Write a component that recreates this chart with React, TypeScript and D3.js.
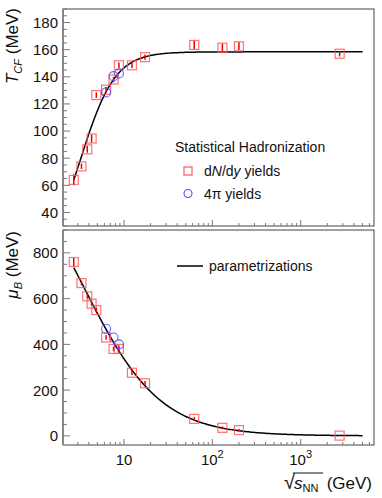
import * as d3 from 'd3';
import React from 'react';

// sqrt(s_NN) in GeV
const energies = [2.7, 3.3, 3.84, 4.3, 4.86, 6.27, 7.62, 8.77, 12.3, 17.3, 62.4, 130, 200, 2760];
const tcfValues = [64, 74, 86.5, 94.5, 126.5, 130.5, 138, 148.5, 148.5, 154.5, 163.5, 161.5, 162.5, 157];
const tcfErrors = [4, 2, 2.5, 3, 2, 2, 2, 2, 2, 2, 3, 3, 3, 2];
const muBValues = [760, 668, 610, 578, 550, 430, 380, 380, 276, 230, 74, 35, 25, 1];
const muBErrors = [20, 10, 10, 10, 10, 10, 10, 15, 10, 10, 8, 6, 5, 1];

const energies4pi = [6.27, 7.62, 8.77];
const tcf4pi = [128.5, 140.5, 142.5];
const muB4pi = [468, 430, 400];

const yTicksT = [40, 60, 80, 100, 120, 140, 160, 180];
const yTicksMu = [0, 200, 400, 600, 800];
const xTickLabels = [
  { v: 10, base: '10', exp: '' },
  { v: 100, base: '10', exp: '2' },
  { v: 1000, base: '10', exp: '3' },
];

// parametrization constants (T_lim, a, b) and (a, b)
const T_LIM = 158.4;
const T_A = 2.6;
const T_B = 0.45;
const MU_A = 1307.5;
const MU_B = 0.288;
const curveRange = [2.7, 5020];

const W = 382;
const H = 498;
const left = 63;
const right = 374;
const top1 = 9;
const bot1 = 226;
const top2 = 230;
const bot2 = 445;

const font = 'Liberation Sans, Arial, Helvetica, sans-serif';
const red = '#ff5a5a';
const blue = '#4a4aff';

const x = d3.scaleLog().domain([2.04, 6760]).range([left, right]);
const yT = d3.scaleLinear().domain([30, 190]).range([bot1, top1]);
const yMu = d3.scaleLinear().domain([-40, 900]).range([bot2, top2]);

const curveX = d3.range(0, 201).map((i) => curveRange[0] * Math.pow(curveRange[1] / curveRange[0], i / 200));
const tFunc = (s: number) => T_LIM / (1 + Math.exp(T_A - Math.log(s) / T_B));
const muFunc = (s: number) => MU_A / (1 + MU_B * s);

const Frame = ({ yScale, ticks, minorStep, y0, y1, showXLabels }: any) => {
  const [d0, d1] = yScale.domain();
  const minors = d3.range(Math.ceil(d0 / minorStep) * minorStep, d1 + 0.001, minorStep);
  const xMinor: number[] = [];
  for (let dec = 1; dec <= 1000; dec *= 10) {
    for (let k = 1; k < 10; k++) {
      const v = dec * k;
      if (v >= 2.04 && v <= 6760) xMinor.push(v);
    }
  }
  return (
    <g>
      <rect x={left} y={y0} width={right - left} height={y1 - y0} fill="none" stroke="#444" strokeWidth={1} />
      <line x1={left} x2={left} y1={y0} y2={y1} stroke="#888" strokeWidth={2} />
      {minors.map((v: number) => (
        <line key={'ym' + v} x1={left} x2={left + (ticks.includes(v) ? 7 : 4)} y1={yScale(v)} y2={yScale(v)} stroke="#777" />
      ))}
      {ticks.map((v: number) => (
        <text key={'yl' + v} x={left - 5} y={yScale(v)} dy="0.36em" textAnchor="end" fontSize={15} fontFamily={font} fill="#111">
          {v}
        </text>
      ))}
      {xMinor.map((v) => {
        const major = v === 10 || v === 100 || v === 1000;
        return <line key={'xm' + v} x1={x(v)} x2={x(v)} y1={y1} y2={y1 - (major ? 6 : 3)} stroke="#777" />;
      })}
      {showXLabels &&
        xTickLabels.map((t) => (
          <text key={'xl' + t.v} x={x(t.v)} y={y1 + 20} textAnchor="middle" fontSize={15} fontFamily={font} fill="#111">
            {t.base}
            {t.exp && (
              <tspan dy={-7} fontSize={11}>
                {t.exp}
              </tspan>
            )}
          </text>
        ))}
    </g>
  );
};

const Points = ({ yScale, vals, errs, v4pi }: any) => (
  <g>
    {energies.map((e, i) => (
      <g key={'e' + i}>
        <line x1={x(e)} x2={x(e)} y1={yScale(vals[i] - errs[i])} y2={yScale(vals[i] + errs[i])} stroke="#e00" strokeWidth={1.5} />
        <rect x={x(e) - 4.5} y={yScale(vals[i]) - 4.5} width={9} height={9} fill="none" stroke={red} strokeWidth={1.2} opacity={0.85} />
      </g>
    ))}
    {energies4pi.map((e, i) => (
      <circle key={'c' + i} cx={x(e)} cy={yScale(v4pi[i])} r={4.5} fill="none" stroke={blue} strokeWidth={1.1} opacity={0.85} />
    ))}
  </g>
);

export default function App() {
  const lineT = d3.line<number>().x((s) => x(s)).y((s) => yT(tFunc(s)));
  const lineMu = d3.line<number>().x((s) => x(s)).y((s) => yMu(muFunc(s)));
  return (
    <svg width={W} height={H} style={{ position: 'absolute', left: 0, top: 0, background: '#fff' }}>
      <Frame yScale={yT} ticks={yTicksT} minorStep={5} y0={top1} y1={bot1} showXLabels={false} />
      <Frame yScale={yMu} ticks={yTicksMu} minorStep={50} y0={top2} y1={bot2} showXLabels={true} />

      <path d={lineT(curveX) || ''} fill="none" stroke="#000" strokeWidth={1.5} />
      <path d={lineMu(curveX) || ''} fill="none" stroke="#000" strokeWidth={1.5} />

      <Points yScale={yT} vals={tcfValues} errs={tcfErrors} v4pi={tcf4pi} />
      <Points yScale={yMu} vals={muBValues} errs={muBErrors} v4pi={muB4pi} />

      {/* legend */}
      <text x={175} y={152} fontSize={14} fontFamily={font} fill="#111">Statistical Hadronization</text>
      <rect x={184} y={167} width={8} height={8} fill="none" stroke={red} strokeWidth={1.2} />
      <text x={204} y={176} fontSize={14} fontFamily={font} fill="#111">
        d<tspan fontStyle="italic">N</tspan>/d<tspan fontStyle="italic">y</tspan> yields
      </text>
      <circle cx={188} cy={193.5} r={4} fill="none" stroke={blue} strokeWidth={1.1} />
      <text x={204} y={198.5} fontSize={14} fontFamily={font} fill="#111">4π yields</text>

      <line x1={177} x2={203} y1={266} y2={266} stroke="#000" strokeWidth={1.5} />
      <text x={209} y={271} fontSize={14} fontFamily={font} fill="#111">parametrizations</text>

      {/* y titles */}
      <text transform={`translate(18, ${top1 - 1}) rotate(-90)`} textAnchor="end" fontSize={17} fontFamily={font} fill="#111">
        <tspan fontStyle="italic">T</tspan>
        <tspan fontStyle="italic" fontSize={11} dy={4}>CF</tspan>
        <tspan dy={-4}> (MeV)</tspan>
      </text>
      <text transform={`translate(18, ${top2 + 1}) rotate(-90)`} textAnchor="end" fontSize={17} fontFamily={font} fill="#111">
        <tspan fontStyle="italic">μ</tspan>
        <tspan fontStyle="italic" fontSize={11} dy={4}>B</tspan>
        <tspan dy={-4}> (MeV)</tspan>
      </text>

      {/* x title */}
      <text x={284} y={489} fontSize={20} fontFamily={font} fill="#111">√</text>
      <line x1={293} x2={323} y1={473} y2={473} stroke="#111" strokeWidth={1} />
      <text x={294} y={489} fontSize={17} fontFamily={font} fill="#111">
        <tspan fontStyle="italic">s</tspan>
        <tspan fontSize={11} dy={3}>NN</tspan>
      </text>
      <text x={372} y={489} textAnchor="end" fontSize={17} fontFamily={font} fill="#111">(GeV)</text>
    </svg>
  );
}
